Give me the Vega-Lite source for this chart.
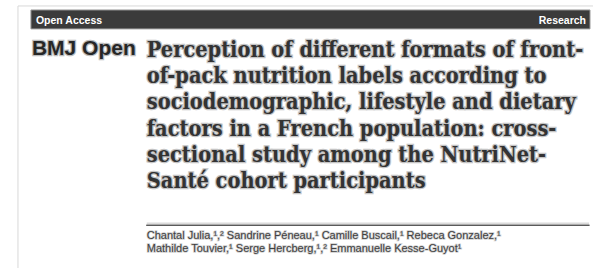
{
  "$schema": "https://vega.github.io/schema/vega-lite/v6.json",
  "width": 594,
  "height": 269,
  "autosize": {"type": "fit", "contains": "padding"},
  "padding": 0,
  "background": "white",
  "config": {"view": {"stroke": null}},
  "datasets": {
    "page": [{"item": "page"}],
    "header": [
      {"label": "Open Access", "side": "left"},
      {"label": "Research", "side": "right"}
    ],
    "brand": [{"label": "BMJ Open"}],
    "title": [
      {"text": "Perception of different formats of front-", "line": 1},
      {"text": "of-pack nutrition labels according to", "line": 2},
      {"text": "sociodemographic, lifestyle and dietary", "line": 3},
      {"text": "factors in a French population: cross-", "line": 4},
      {"text": "sectional study among the NutriNet-", "line": 5},
      {"text": "Santé cohort participants", "line": 6}
    ],
    "authors": [
      {"text": "Chantal Julia,¹,² Sandrine Péneau,¹ Camille Buscail,¹ Rebeca Gonzalez,¹", "line": 1},
      {"text": "Mathilde Touvier,¹ Serge Hercberg,¹,² Emmanuelle Kesse-Guyot¹", "line": 2}
    ]
  },
  "resolve": {"scale": {"y": "independent"}},
  "layer": [
    {
      "data": {"name": "page"},
      "mark": {"type": "rule", "stroke": "#d8d8d8", "strokeWidth": 1},
      "encoding": {
        "x": {"datum": 18, "type": "quantitative", "scale": {"domain": [0, 594], "nice": false, "zero": false}, "axis": null},
        "y": {"datum": 6, "type": "quantitative", "scale": {"domain": [0, 269], "reverse": true, "nice": false, "zero": false}, "axis": null},
        "y2": {"datum": 269}
      }
    },
    {
      "data": {"name": "page"},
      "mark": {"type": "rule", "stroke": "#d8d8d8", "strokeWidth": 1},
      "encoding": {
        "x": {"datum": 18, "type": "quantitative", "scale": {"domain": [0, 594], "nice": false, "zero": false}, "axis": null},
        "x2": {"datum": 594},
        "y": {"datum": 6, "type": "quantitative", "scale": {"domain": [0, 269], "reverse": true, "nice": false, "zero": false}, "axis": null}
      }
    },
    {
      "data": {"name": "page"},
      "mark": {"type": "rect", "fill": "#3b3b3b", "stroke": "#9a9a9a", "strokeWidth": 1},
      "encoding": {
        "x": {"datum": 31, "type": "quantitative", "scale": {"domain": [0, 594], "nice": false, "zero": false}, "axis": null},
        "x2": {"datum": 591},
        "y": {"datum": 10, "type": "quantitative", "scale": {"domain": [0, 269], "reverse": true, "nice": false, "zero": false}, "axis": null},
        "y2": {"datum": 29}
      }
    },
    {
      "data": {"name": "header"},
      "transform": [{"filter": "datum.side === 'left'"}],
      "mark": {"type": "text", "align": "left", "baseline": "alphabetic", "font": "Liberation Sans", "fontWeight": "bold", "fontSize": 10.5, "fill": "white"},
      "encoding": {
        "x": {"datum": 36, "type": "quantitative", "scale": {"domain": [0, 594], "nice": false, "zero": false}, "axis": null},
        "y": {"datum": 24, "type": "quantitative", "scale": {"domain": [0, 269], "reverse": true, "nice": false, "zero": false}, "axis": null},
        "text": {"field": "label"}
      }
    },
    {
      "data": {"name": "header"},
      "transform": [{"filter": "datum.side === 'right'"}],
      "mark": {"type": "text", "align": "right", "baseline": "alphabetic", "font": "Liberation Sans", "fontWeight": "bold", "fontSize": 10.5, "fill": "white"},
      "encoding": {
        "x": {"datum": 587, "type": "quantitative", "scale": {"domain": [0, 594], "nice": false, "zero": false}, "axis": null},
        "y": {"datum": 24, "type": "quantitative", "scale": {"domain": [0, 269], "reverse": true, "nice": false, "zero": false}, "axis": null},
        "text": {"field": "label"}
      }
    },
    {
      "data": {"name": "brand"},
      "mark": {"type": "text", "align": "left", "baseline": "alphabetic", "font": "Liberation Sans", "fontWeight": "bold", "fontSize": 21, "fill": "#bdbdbd", "stroke": "#bdbdbd", "strokeWidth": 2.5},
      "encoding": {
        "x": {"datum": 32, "type": "quantitative", "scale": {"domain": [0, 594], "nice": false, "zero": false}, "axis": null},
        "y": {"datum": 55, "type": "quantitative", "scale": {"domain": [0, 269], "reverse": true, "nice": false, "zero": false}, "axis": null},
        "text": {"field": "label"}
      }
    },
    {
      "data": {"name": "brand"},
      "mark": {"type": "text", "align": "left", "baseline": "alphabetic", "font": "Liberation Sans", "fontWeight": "bold", "fontSize": 21, "fill": "#262626"},
      "encoding": {
        "x": {"datum": 32, "type": "quantitative", "scale": {"domain": [0, 594], "nice": false, "zero": false}, "axis": null},
        "y": {"datum": 55, "type": "quantitative", "scale": {"domain": [0, 269], "reverse": true, "nice": false, "zero": false}, "axis": null},
        "text": {"field": "label"}
      }
    },
    {
      "data": {"name": "title"},
      "mark": {"type": "text", "align": "left", "baseline": "alphabetic", "font": "DejaVu Serif Condensed", "fontWeight": "bold", "fontSize": 21.6, "fill": "#c4c4c4", "stroke": "#c4c4c4", "strokeWidth": 2.5},
      "encoding": {
        "x": {"datum": 147, "type": "quantitative", "scale": {"domain": [0, 594], "nice": false, "zero": false}, "axis": null},
        "y": {"field": "line", "type": "quantitative", "scale": {"domain": [-1.159, 9.03], "reverse": true, "nice": false, "zero": false}, "axis": null},
        "text": {"field": "text"}
      }
    },
    {
      "data": {"name": "title"},
      "mark": {"type": "text", "align": "left", "baseline": "alphabetic", "font": "DejaVu Serif Condensed", "fontWeight": "bold", "fontSize": 21.6, "fill": "#333333"},
      "encoding": {
        "x": {"datum": 147, "type": "quantitative", "scale": {"domain": [0, 594], "nice": false, "zero": false}, "axis": null},
        "y": {"field": "line", "type": "quantitative", "scale": {"domain": [-1.159, 9.03], "reverse": true, "nice": false, "zero": false}, "axis": null},
        "text": {"field": "text"}
      }
    },
    {
      "data": {"name": "page"},
      "mark": {"type": "rule", "stroke": "#c8c8c8", "strokeWidth": 1},
      "encoding": {
        "x": {"datum": 147, "type": "quantitative", "scale": {"domain": [0, 594], "nice": false, "zero": false}, "axis": null},
        "x2": {"datum": 590},
        "y": {"datum": 224, "type": "quantitative", "scale": {"domain": [0, 269], "reverse": true, "nice": false, "zero": false}, "axis": null}
      }
    },
    {
      "data": {"name": "page"},
      "mark": {"type": "rule", "stroke": "#5a5a5a", "strokeWidth": 1.5, "strokeCap": "round"},
      "encoding": {
        "x": {"datum": 147, "type": "quantitative", "scale": {"domain": [0, 594], "nice": false, "zero": false}, "axis": null},
        "x2": {"datum": 590},
        "y": {"datum": 226, "type": "quantitative", "scale": {"domain": [0, 269], "reverse": true, "nice": false, "zero": false}, "axis": null}
      }
    },
    {
      "data": {"name": "authors"},
      "mark": {"type": "text", "align": "left", "baseline": "alphabetic", "font": "Liberation Sans", "fontSize": 11, "fill": "#d0d0d0", "stroke": "#d0d0d0", "strokeWidth": 1.5},
      "encoding": {
        "x": {"datum": 147, "type": "quantitative", "scale": {"domain": [0, 594], "nice": false, "zero": false}, "axis": null},
        "y": {"field": "line", "type": "quantitative", "scale": {"domain": [-17.46, 3.231], "reverse": true, "nice": false, "zero": false}, "axis": null},
        "text": {"field": "text"}
      }
    },
    {
      "data": {"name": "authors"},
      "mark": {"type": "text", "align": "left", "baseline": "alphabetic", "font": "Liberation Sans", "fontSize": 11, "fill": "#404040"},
      "encoding": {
        "x": {"datum": 147, "type": "quantitative", "scale": {"domain": [0, 594], "nice": false, "zero": false}, "axis": null},
        "y": {"field": "line", "type": "quantitative", "scale": {"domain": [-17.46, 3.231], "reverse": true, "nice": false, "zero": false}, "axis": null},
        "text": {"field": "text"}
      }
    }
  ]
}
